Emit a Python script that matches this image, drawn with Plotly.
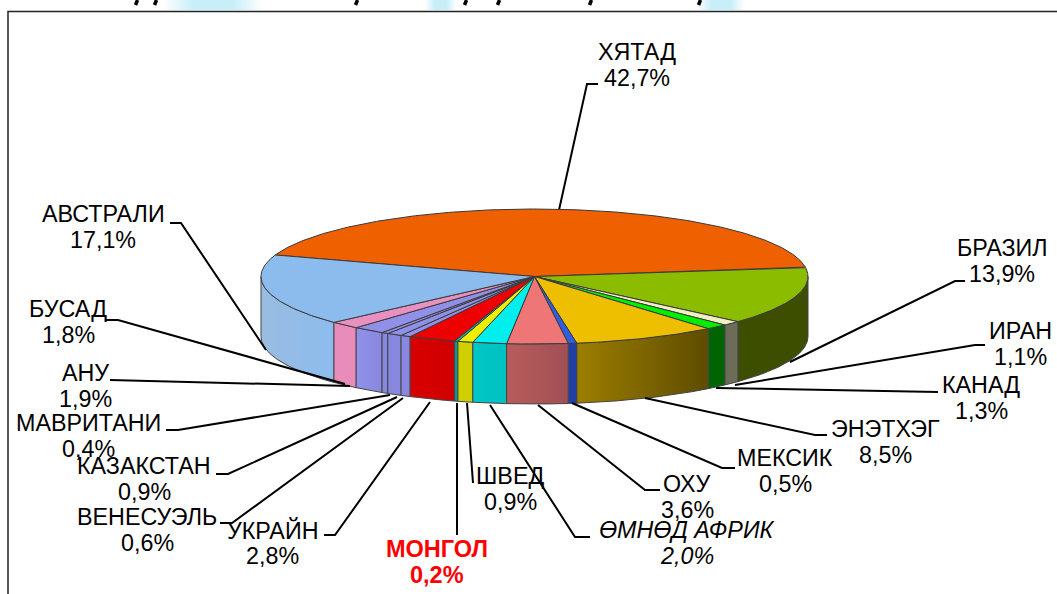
import math
import plotly.graph_objects as go

names = ["ХЯТАД", "БРАЗИЛ", "ИРАН", "КАНАД", "ЭНЭТХЭГ", "МЕКСИК", "ОХУ", "ӨМНӨД АФРИК", "ШВЕД",
         "МОНГОЛ", "УКРАЙН", "ВЕНЕСУЭЛЬ", "КАЗАКСТАН", "МАВРИТАНИ", "АНУ", "БУСАД", "АВСТРАЛИ"]
shares = [42.7, 13.9, 1.1, 1.3, 8.5, 0.5, 3.6, 2.0, 0.9, 0.2, 2.8, 0.6, 0.9, 0.4, 1.9, 1.8, 17.1]
share_text = ["42,7%", "13,9%", "1,1%", "1,3%", "8,5%", "0,5%", "3,6%", "2,0%", "0,9%",
              "0,2%", "2,8%", "0,6%", "0,9%", "0,4%", "1,9%", "1,8%", "17,1%"]

top_colors = ["#EE6000", "#8CBC00", "#F2EFC4", "#00EE00", "#EEBE00", "#2F5FE0", "#EE7676", "#00EEEE", "#EEEE00",
              "#00BFBF", "#EE0000", "#9090E8", "#9090E8", "#9090E8", "#9090E8", "#E890C0", "#8CBCEE"]
side_left = ["#A04000", "#3E4E00", "#6C6C58", "#006400", "#9C7E00", "#2040A8", "#B85C5C", "#00C8C8", "#D0D000",
             "#00A0A0", "#D80000", "#8888E0", "#8888E0", "#8888E0", "#9090E8", "#E88CBC", "#9ABCE0"]
side_right = ["#A04000", "#3E4E00", "#6C6C58", "#006400", "#5E4C00", "#2040A8", "#A05056", "#00C0C0", "#D0D000",
              "#00A0A0", "#D00000", "#8888E0", "#8888E0", "#8888E0", "#8888E0", "#E88CBC", "#8CBCEE"]

CX, CY, A, B, DEPTH = 534.5, 276.5, 273.5, 67.5, 60
START = 161.4
FONT_SIZE = 23.3

# label text centre (x, y of name line), elbow, and end of the stub beside the text
layout_info = {
    "ХЯТАД": (637, 52, (587, 84), (598, 84)),
    "БРАЗИЛ": (1002, 248, (955, 281), (965, 281)),
    "ИРАН": (1020, 331, (975, 345), (985, 345)),
    "КАНАД": (981, 385, (925, 392), (938, 392)),
    "ЭНЭТХЭГ": (885, 429, (815, 435), (827, 435)),
    "МЕКСИК": (785, 458, (722, 468), (735, 468)),
    "ОХУ": (687, 484, (645, 490), (660, 490)),
    "ӨМНӨД АФРИК": (687, 530, (575, 537), (590, 537)),
    "ШВЕД": (510, 476, (473, 483), (473, 483)),
    "МОНГОЛ": (437, 549, (457, 535), (457, 535)),
    "УКРАЙН": (272, 530, (335, 535), (324, 535)),
    "ВЕНЕСУЭЛЬ": (147, 517, (232, 523), (220, 523)),
    "КАЗАКСТАН": (144, 466, (228, 474), (216, 474)),
    "МАВРИТАНИ": (88, 423, (178, 430), (166, 430)),
    "АНУ": (85, 373, (120, 380), (110, 380)),
    "БУСАД": (68, 309, (118, 320), (106, 320)),
    "АВСТРАЛИ": (103, 214, (181, 223), (170, 223)),
}
# where the leader meets the pie
anchors = {
    "ХЯТАД": (559, 210), "БРАЗИЛ": (790, 362), "ИРАН": (735, 385), "КАНАД": (716, 388),
    "ЭНЭТХЭГ": (645, 398), "МЕКСИК": (572, 403), "ОХУ": (538, 405), "ӨМНӨД АФРИК": (490, 405),
    "ШВЕД": (467, 403), "МОНГОЛ": (457, 403), "УКРАЙН": (430, 402), "ВЕНЕСУЭЛЬ": (403, 398),
    "КАЗАКСТАН": (397, 397), "МАВРИТАНИ": (390, 395), "АНУ": (350, 386), "БУСАД": (345, 384),
    "АВСТРАЛИ": (266, 350),
}

def pt(deg, dy=0.0):
    t = math.radians(deg)
    return CX + A * math.cos(t), CY - B * math.sin(t) + dy

total = sum(shares)
spans, a = [], START
for s in shares:
    b = a - s / total * 360
    spans.append((a, b))
    a = b

fig = go.Figure()
EDGE = "#444444"

# pale backdrop patches showing above the frame
for x0, x1 in [(163, 263), (425, 456), (697, 745)]:
    xs = [x0, x1, x1, x0, x0]
    ys = [0, 0, 10, 10, 0]
    fig.add_trace(go.Scatter(x=xs, y=ys, mode="lines", fill="toself", line=dict(width=0),
                             fillgradient=dict(type="horizontal",
                                               colorscale=[[0, "#FFFFFF"], [0.3, "#C8EEFA"], [0.7, "#C8EEFA"], [1, "#FFFFFF"]]),
                             hoverinfo="skip"))
# descenders of the cropped heading
for x in [136, 155, 356, 465, 498, 590, 699]:
    fig.add_trace(go.Scatter(x=[x + 1.5, x - 0.5], y=[0, 5], mode="lines",
                             line=dict(color="black", width=3.5), hoverinfo="skip"))

def arc(a0, a1, dy=0.0):
    n = max(2, int(abs(a1 - a0) * 2) + 1)
    return [pt(a0 + (a1 - a0) * i / (n - 1), dy) for i in range(n)]

def wall(a0, a1, left, right, name):
    lo, hi = a1, a0
    segs = []
    for shift in (0, -360, 360):
        l, h = max(lo, -180 + shift), min(hi, 0 + shift)
        if l < h:
            segs.append((h, l))
    for h, l in segs:
        top = arc(h, l)
        bot = arc(l, h, DEPTH)
        pts = top + bot + [top[0]]
        if left != right:
            kw = dict(fillgradient=dict(type="horizontal", colorscale=[[0, left], [1, right]]))
        else:
            kw = dict(fillcolor=left)
        fig.add_trace(go.Scatter(x=[p[0] for p in pts], y=[p[1] for p in pts], mode="lines",
                                 fill="toself", line=dict(color=EDGE, width=1),
                                 hoverinfo="skip", name=name, **kw))

order = sorted(range(len(shares)), key=lambda i: -abs(((spans[i][0] + spans[i][1]) / 2 + 90 + 180) % 360 - 180))
for i in order:
    wall(spans[i][0], spans[i][1], side_left[i], side_right[i], names[i])

for n in names:
    lx, ly, elbow, stub = layout_info[n]
    ax, ay = anchors[n]
    fig.add_trace(go.Scatter(x=[ax, elbow[0], stub[0]], y=[ay, elbow[1], stub[1]], mode="lines",
                             line=dict(color="black", width=2), hoverinfo="skip"))

for i, (a0, a1) in enumerate(spans):
    pts = [(CX, CY)] + arc(a0, a1) + [(CX, CY)]
    fig.add_trace(go.Scatter(x=[p[0] for p in pts], y=[p[1] for p in pts], mode="lines",
                             fill="toself", fillcolor=top_colors[i], line=dict(color="#3A3A3A", width=1),
                             hoverinfo="skip", name=names[i]))

for n, txt in zip(names, share_text):
    lx, ly, _, _ = layout_info[n]
    red = n == "МОНГОЛ"
    it = n == "ӨМНӨД АФРИК"
    for j, t in enumerate((n, txt)):
        s = t
        if red:
            s = f"<b>{t}</b>"
        if it:
            s = f"<i>{t}</i>"
        fig.add_annotation(x=lx, y=ly + j * 26, text=s, showarrow=False, xanchor="center", yanchor="middle",
                           font=dict(family="Liberation Sans", size=23.5 if red else FONT_SIZE,
                                     color="#FF0000" if red else "black"))

fig.update_layout(
    width=1057, height=594, margin=dict(l=0, r=0, t=0, b=0), showlegend=False,
    paper_bgcolor="white", plot_bgcolor="white",
    xaxis=dict(range=[0, 1057], visible=False, fixedrange=True),
    yaxis=dict(range=[594, 0], visible=False, fixedrange=True),
    shapes=[dict(type="rect", xref="x", yref="y", x0=8, y0=11.5, x1=1070, y1=600,
                 line=dict(color="#222222", width=1.5), layer="below")],
)
fig.write_html("out.html", config=dict(displayModeBar=False),
               post_script="document.body.style.margin='0';document.documentElement.style.overflow='hidden';")
